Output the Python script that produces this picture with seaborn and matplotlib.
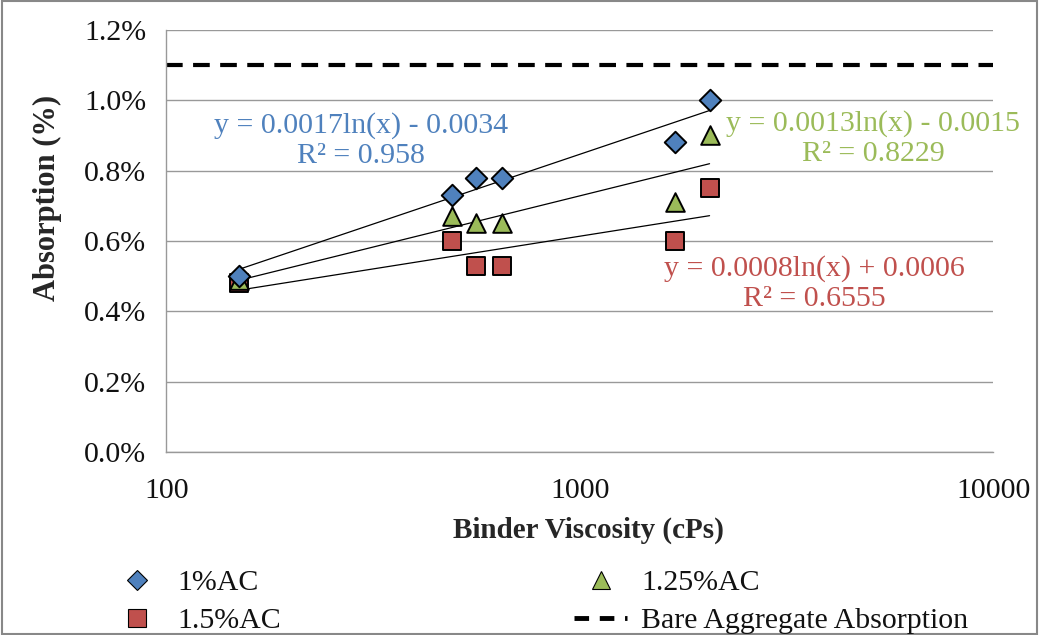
import numpy as np
import pandas as pd
import matplotlib
matplotlib.use("Agg")
import matplotlib.pyplot as plt
from matplotlib.patches import Rectangle
from matplotlib.lines import Line2D
from matplotlib.ticker import FuncFormatter, FixedLocator, NullLocator
import seaborn as sns

viscosity = [150, 490, 560, 650, 1700, 2060]
abs_1 = [0.0050, 0.0073, 0.0078, 0.0078, 0.0088, 0.0100]
abs_125 = [0.0049, 0.0067, 0.0065, 0.0065, 0.0071, 0.0090]
abs_15 = [0.0048, 0.0060, 0.0053, 0.0053, 0.0060, 0.0075]
bare_absorption = 0.011
series_labels = ["1%AC", "1.25%AC", "1.5%AC"]
bare_label = "Bare Aggregate Absorption"
eq_texts = ["y = 0.0017ln(x) - 0.0034\nR² = 0.958",
            "y = 0.0013ln(x) - 0.0015\nR² = 0.8229",
            "y = 0.0008ln(x) + 0.0006\nR² = 0.6555"]
y_ticks = [0.0, 0.002, 0.004, 0.006, 0.008, 0.010, 0.012]
x_ticks = [100, 1000, 10000]

sns.set_theme(style="white")
plt.rcParams["font.family"] = ["Liberation Serif", "DejaVu Serif"]

colors = ["#4F81BD", "#9BBB59", "#C0504D"]
markers = ["D", "^", "s"]
msizes = [120, 180, 180]

fig = plt.figure(figsize=(10.39, 6.35), dpi=100)
ax = fig.add_axes([0.160, 0.288, 0.796, 0.665])

df = pd.DataFrame({"x": viscosity, "a1": abs_1, "a125": abs_125, "a15": abs_15})
cols = ["a1", "a125", "a15"]

for c in cols:
    sns.regplot(data=df, x="x", y=c, logx=True, ci=None, scatter=False, truncate=True,
                line_kws=dict(color="black", lw=0.9), ax=ax)

# draw scatter: 1.5 first, then 1.25, then 1 on top
for i in [2, 1, 0]:
    sns.scatterplot(data=df, x="x", y=cols[i], marker=markers[i], s=msizes[i],
                    color=colors[i], edgecolor="black", linewidth=1.4, ax=ax, zorder=3)

ax.axhline(bare_absorption, color="black", lw=3, ls=(0, (4, 2.5)))

ax.set_xscale("log")
ax.set_xlim(100, 10000)
ax.set_ylim(0, 0.012)
ax.xaxis.set_major_locator(FixedLocator(x_ticks))
ax.xaxis.set_minor_locator(NullLocator())
ax.xaxis.set_major_formatter(FuncFormatter(lambda v, p: f"{v:.0f}"))
ax.set_yticks(y_ticks)
ax.yaxis.set_major_formatter(FuncFormatter(lambda v, p: f"{v*100:.1f}%"))
ax.grid(axis="y", color="#999999", lw=1)
ax.grid(axis="x", visible=False)
for sp in ["top", "right"]:
    ax.spines[sp].set_visible(False)
for sp in ["left", "bottom"]:
    ax.spines[sp].set_color("#999999")
    ax.spines[sp].set_linewidth(1)
ax.tick_params(axis="both", which="major", direction="out", length=6.5, width=1,
               color="#999999", labelsize=21.5, labelcolor="#111111")
ax.tick_params(axis="x", pad=12)
ax.tick_params(axis="y", pad=8)
ax.set_xlabel("Binder Viscosity (cPs)", fontsize=21, fontweight="bold")
ax.set_ylabel("Absorption (%)", fontsize=22, fontweight="bold")
ax.xaxis.set_label_coords(0.51, -0.154)
ax.yaxis.set_label_coords(-0.126, 0.602)

ax.text(0.235, 0.739, eq_texts[0], transform=ax.transAxes, ha="center", va="center",
        color=colors[0], fontsize=21.5, linespacing=1.2)
ax.text(0.855, 0.743, eq_texts[1], transform=ax.transAxes, ha="center", va="center",
        color=colors[1], fontsize=21.5, linespacing=1.2)
ax.text(0.784, 0.399, eq_texts[2], transform=ax.transAxes, ha="center", va="center",
        color=colors[2], fontsize=21.5, linespacing=1.2)

handles = [
    Line2D([], [], ls="none", marker="D", ms=10, mfc=colors[0], mec="black", mew=0.8),
    Line2D([], [], ls="none", marker="s", ms=13, mfc=colors[2], mec="black", mew=0.8),
    Line2D([], [], ls="none", marker="^", ms=13, mfc=colors[1], mec="black", mew=0.8),
    Line2D([], [], color="black", lw=3.5, ls=(0, (3, 2.2))),
]
labels = [series_labels[0], series_labels[2], series_labels[1], bare_label]
fig.legend(handles, labels, loc="upper left", bbox_to_anchor=(0.106, 0.1035), ncol=2,
           frameon=False, fontsize=21.5, columnspacing=9.8, handlelength=1.8,
           handletextpad=0.45, labelspacing=0.37, borderpad=0, borderaxespad=0,
           labelcolor="#111111")

fig.patches.append(Rectangle((0.002, 0.002), 0.996, 0.996, transform=fig.transFigure,
                             fill=False, edgecolor="#888888", lw=1.5))

fig.savefig("out.png", dpi=100)
